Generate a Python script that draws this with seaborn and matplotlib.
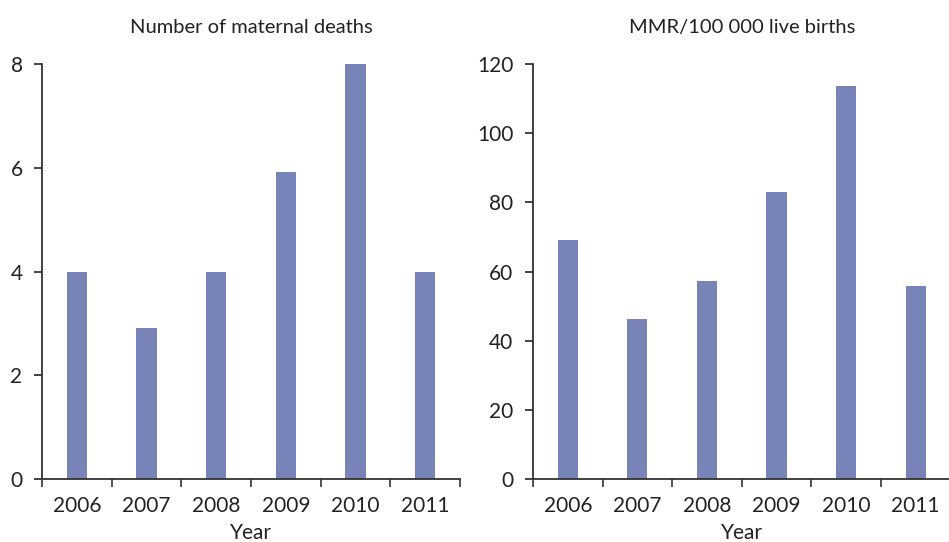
import matplotlib
matplotlib.use("Agg")
import matplotlib.pyplot as plt
from matplotlib.ticker import FixedLocator
import pandas as pd
import seaborn as sns


YEARS = ["2006", "2007", "2008", "2009", "2010", "2011"]
DEATHS = [4.0, 2.92, 4.0, 5.92, 8.0, 4.0]
MMR = [69.1, 46.3, 57.3, 83.0, 113.6, 55.8]

PANELS = [
    ("deaths", DEATHS, "Number of maternal deaths", 8, [0, 2, 4, 6, 8]),
    ("mmr", MMR, "MMR/100 000 live births", 120, [0, 20, 40, 60, 80, 100, 120]),
]

BAR_COLOR = "#7884b8"


def main() -> None:
    sns.set_theme(style="ticks")
    plt.rcParams["font.family"] = ["Lato", "DejaVu Sans"]

    fig = plt.figure(figsize=(9.49, 5.42), dpi=100)
    rects = [
        [0.0443, 0.1162, 0.4405, 0.7657],
        [0.5616, 0.1162, 0.4400, 0.7657],
    ]

    for rect, (name, values, title, ymax, yticks) in zip(rects, PANELS):
        ax = fig.add_axes(rect)
        df = pd.DataFrame({"year": YEARS, name: values})
        sns.barplot(data=df, x="year", y=name, color=BAR_COLOR, width=0.29,
                    saturation=1, linewidth=0, ax=ax)
        ax.set_xlim(-0.5, len(YEARS) - 0.5)
        ax.set_ylim(0, ymax)
        ax.set_yticks(yticks)
        ax.xaxis.set_minor_locator(FixedLocator([i - 0.5 for i in range(len(YEARS) + 1)]))
        ax.tick_params(axis="x", which="major", length=0, pad=12, labelsize=15, colors="#222222")
        ax.tick_params(axis="x", which="minor", length=6, width=1.2, color="#333333")
        ax.tick_params(axis="y", length=6, width=1.2, pad=8, labelsize=15,
                       colors="#222222")
        ax.set_xlabel("Year", fontsize=15, color="#222222", labelpad=5)
        ax.set_ylabel("")
        ax.set_title(title, fontsize=14.5, color="#222222", pad=22)
        sns.despine(ax=ax)
        for side in ("left", "bottom"):
            ax.spines[side].set_linewidth(1.3)
            ax.spines[side].set_color("#333333")

    fig.savefig("out.png", dpi=100)
    plt.close(fig)


if __name__ == "__main__":
    main()
